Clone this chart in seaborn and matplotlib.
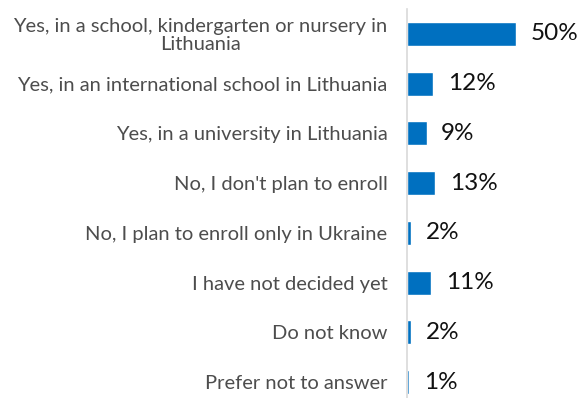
import matplotlib
matplotlib.use("Agg")
import matplotlib.pyplot as plt
import seaborn as sns
import pandas as pd

categories = [
    "Yes, in a school, kindergarten or nursery in\nLithuania",
    "Yes, in an international school in Lithuania",
    "Yes, in a university in Lithuania",
    "No, I don't plan to enroll",
    "No, I plan to enroll only in Ukraine",
    "I have not decided yet",
    "Do not know",
    "Prefer not to answer",
]
shares = [50, 12, 9, 13, 2, 11, 2, 1]
value_labels = ["50%", "12%", "9%", "13%", "2%", "11%", "2%", "1%"]

df = pd.DataFrame({"category": categories, "share": shares})

sns.set_theme(style="white")
plt.rcParams["font.family"] = ["Lato", "DejaVu Sans"]

fig = plt.figure(figsize=(5.79, 3.98), dpi=100)
ax = fig.add_axes([407 / 579, -9 / 398, 1 - 407 / 579, 1.0])

sns.barplot(data=df, x="share", y="category", color="#0070C0",
            width=0.48, saturation=1, ax=ax)

for i, (v, lab) in enumerate(zip(shares, value_labels)):
    ax.annotate(lab, xy=(v, i), xytext=(10.5, 0), textcoords="offset points",
                ha="left", va="center", fontsize=17.5, color="#111111")

ax.set_xlim(0, (579 - 407) / 2.18)
ax.set_ylim(len(categories) - 0.5, -0.5)
ax.set_xlabel("")
ax.set_ylabel("")
ax.set_xticks([])
ax.tick_params(axis="y", length=0, pad=14)
for lbl in ax.get_yticklabels():
    lbl.set_horizontalalignment("right")
    lbl.set_multialignment("center")
    lbl.set_fontsize(14.5)
    lbl.set_color("#4d4d4d")
    lbl.set_linespacing(1.08)

for side in ["top", "right", "bottom"]:
    ax.spines[side].set_visible(False)
ax.spines["left"].set_color("#d9d9d9")
ax.spines["left"].set_linewidth(1.2)

fig.savefig("out.png", dpi=100)
